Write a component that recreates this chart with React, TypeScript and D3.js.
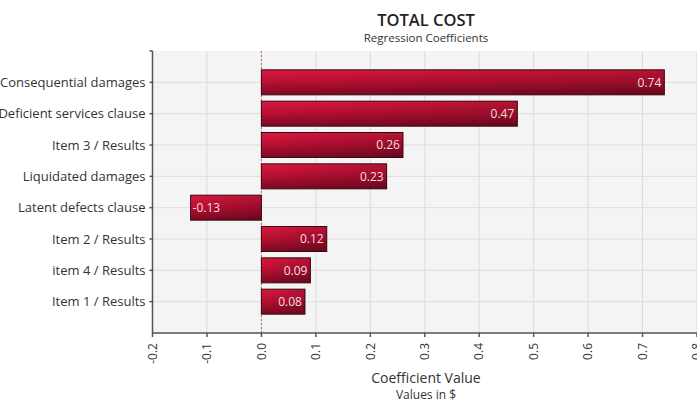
import React from "react";
import * as d3 from "d3";

const categories = [
  "Consequential damages",
  "Deficient services clause",
  "Item 3 / Results",
  "Liquidated damages",
  "Latent defects clause",
  "Item 2 / Results",
  "item 4 / Results",
  "Item 1 / Results",
];
const values = [0.74, 0.47, 0.26, 0.23, -0.13, 0.12, 0.09, 0.08];
const xTicks = [-0.2, -0.1, 0.0, 0.1, 0.2, 0.3, 0.4, 0.5, 0.6, 0.7, 0.8];

const W = 697;
const H = 403;
const plotLeft = 152.5;
const plotRight = 697;
const plotTop = 51;
const plotBottom = 333;
const font = "'Open Sans', 'DejaVu Sans', sans-serif";

export default function App() {
  const x = d3.scaleLinear().domain([-0.2, 0.8]).range([plotLeft, plotRight]);
  const y = d3
    .scalePoint<string>()
    .domain(categories)
    .range([plotTop, plotBottom])
    .padding(1);
  const barH = 25;
  const x0 = x(0);

  return (
    <svg
      width={W}
      height={H}
      style={{ position: "absolute", left: 0, top: 0, background: "#fff" }}
    >
      <defs>
        <linearGradient id="barGrad" x1="0" y1="0" x2="0" y2="1">
          <stop offset="0%" stopColor="#dc1840" />
          <stop offset="50%" stopColor="#b80f32" />
          <stop offset="100%" stopColor="#7a0a22" />
        </linearGradient>
        <linearGradient id="barShade" x1="0" y1="0" x2="1" y2="0">
          <stop offset="0%" stopColor="#000" stopOpacity="0" />
          <stop offset="100%" stopColor="#000" stopOpacity="0.18" />
        </linearGradient>
      </defs>
      <rect
        x={plotLeft}
        y={plotTop}
        width={plotRight - plotLeft}
        height={plotBottom - plotTop}
        fill="#f4f4f4"
      />
      {xTicks.map((t) => (
        <line
          key={"gx" + t}
          x1={x(t)}
          x2={x(t)}
          y1={plotTop}
          y2={plotBottom}
          stroke="#dcdcdc"
          strokeWidth={1}
        />
      ))}
      {categories.map((c) => (
        <line
          key={"gy" + c}
          x1={plotLeft}
          x2={plotRight}
          y1={y(c)}
          y2={y(c)}
          stroke="#dcdcdc"
          strokeWidth={1}
        />
      ))}
      <line
        x1={x0}
        x2={x0}
        y1={plotTop}
        y2={plotBottom}
        stroke="#b04050"
        strokeWidth={0.8}
        strokeDasharray="2,2"
      />
      {categories.map((c, i) => {
        const v = values[i];
        const xa = Math.min(x(v), x0);
        const w = Math.abs(x(v) - x0);
        const yc = y(c)!;
        return (
          <g key={"b" + c}>
            <rect
              x={xa}
              y={yc - barH / 2}
              width={w}
              height={barH}
              fill="url(#barGrad)"
              stroke="#3c0810"
              strokeWidth={1}
            />
            <rect
              x={xa}
              y={yc - barH / 2}
              width={w}
              height={barH}
              fill="url(#barShade)"
            />
            <text
              x={v >= 0 ? x(v) - 3 : x(v) + 2}
              y={yc}
              dy="0.35em"
              textAnchor={v >= 0 ? "end" : "start"}
              fill="#f5dde2"
              fontFamily={font}
              fontSize={12}
              fontWeight={500}
            >
              {v.toFixed(2)}
            </text>
          </g>
        );
      })}
      {/* axes */}
      <line x1={plotLeft} x2={plotLeft} y1={plotTop} y2={plotBottom} stroke="#555" strokeWidth={1.5} />
      <line x1={plotLeft} x2={plotRight} y1={plotBottom} y2={plotBottom} stroke="#555" strokeWidth={1.5} />
      <line x1={plotLeft - 3} x2={plotLeft} y1={plotTop} y2={plotTop} stroke="#555" strokeWidth={1.5} />
      {categories.map((c) => (
        <g key={"yl" + c}>
          <line x1={plotLeft - 3} x2={plotLeft} y1={y(c)} y2={y(c)} stroke="#555" strokeWidth={1.5} />
          <text
            x={plotLeft - 7}
            y={y(c)}
            dy="0.35em"
            textAnchor="end"
            fill="#333"
            fontFamily={font}
            fontSize={13}
          >
            {c}
          </text>
        </g>
      ))}
      {xTicks.map((t) => (
        <g key={"xl" + t}>
          <line x1={x(t)} x2={x(t)} y1={plotBottom} y2={plotBottom + 4} stroke="#555" strokeWidth={1.5} />
          <text
            transform={`translate(${x(t)},${plotBottom + 10}) rotate(-90)`}
            dy="0.35em"
            textAnchor="end"
            fill="#333"
            fontFamily={font}
            fontSize={12}
          >
            {t.toFixed(1)}
          </text>
        </g>
      ))}
      <text x={426} y={26} textAnchor="middle" fontFamily={font} fontSize={16.5} fontWeight={600} fill="#222">
        TOTAL COST
      </text>
      <text x={426} y={42} textAnchor="middle" fontFamily={font} fontSize={11.5} fill="#333">
        Regression Coefficients
      </text>
      <text x={426} y={383} textAnchor="middle" fontFamily={font} fontSize={14} fill="#333">
        Coefficient Value
      </text>
      <text x={426} y={399} textAnchor="middle" fontFamily={font} fontSize={12} fill="#333">
        Values in $
      </text>
    </svg>
  );
}
